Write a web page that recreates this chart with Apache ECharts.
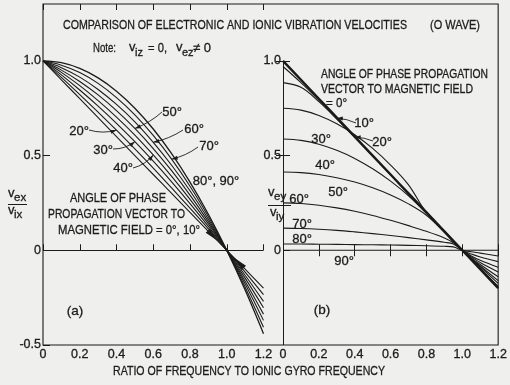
<!DOCTYPE html>
<html>
<head>
<meta charset="utf-8">
<script src="https://cdn.jsdelivr.net/npm/echarts@6/dist/echarts.min.js"></script>
<style>
  html, body { margin: 0; padding: 0; background: #efefed; }
  #c { width: 510px; height: 385px; }
</style>
</head>
<body>
<div id="c"></div>
<script>
const FONT = '"Liberation Sans", Arial, sans-serif';
const INK = '#1b1b1b';

// ---- panel (a): v_ex / v_ix against frequency ratio, one curve per angle ----
const aX       = [0, 0.1, 0.2, 0.3, 0.4, 0.5, 0.6, 0.7, 0.8, 0.9, 1.0, 1.1, 1.2];
const aDeg0_10 = [1, 0.900, 0.800, 0.700, 0.600, 0.500, 0.400, 0.300, 0.200, 0.100, 0, -0.100, -0.200];
const aDeg20   = [1, 0.913, 0.822, 0.729, 0.634, 0.535, 0.434, 0.329, 0.222, 0.113, 0, -0.115, -0.234];
const aDeg30   = [1, 0.926, 0.846, 0.761, 0.670, 0.573, 0.470, 0.361, 0.246, 0.126, 0, -0.132, -0.270];
const aDeg40   = [1, 0.939, 0.869, 0.790, 0.703, 0.608, 0.503, 0.390, 0.269, 0.139, 0, -0.147, -0.303];
const aDeg50   = [1, 0.951, 0.891, 0.820, 0.737, 0.643, 0.537, 0.420, 0.291, 0.151, 0, -0.163, -0.337];
const aDeg60   = [1, 0.964, 0.914, 0.849, 0.770, 0.678, 0.570, 0.449, 0.314, 0.164, 0, -0.178, -0.370];
const aDeg70   = [1, 0.977, 0.938, 0.881, 0.806, 0.715, 0.606, 0.481, 0.338, 0.177, 0, -0.195, -0.406];
const aDeg80_90= [1, 0.990, 0.960, 0.910, 0.840, 0.750, 0.640, 0.510, 0.360, 0.190, 0, -0.210, -0.440];

// ---- panel (b): v_ey / v_iy against frequency ratio ----
const bX     = [0, 0.1, 0.2, 0.3, 0.4, 0.5, 0.6, 0.7, 0.8, 0.9, 0.95, 1.0, 1.05, 1.1, 1.2];
const bDeg0  = [1.000, 0.900, 0.800, 0.700, 0.600, 0.500, 0.400, 0.300, 0.200, 0.100, 0.050, 0, -0.050, -0.100, -0.200];
const bDeg10 = [0.970, 0.885, 0.793, 0.697, 0.598, 0.499, 0.399, 0.299, 0.200, 0.100, 0.050, 0, -0.048, -0.095, -0.190];
const bDeg20 = [0.885, 0.860, 0.785, 0.693, 0.596, 0.497, 0.398, 0.298, 0.199, 0.100, 0.050, 0, -0.045, -0.088, -0.175];
const bDeg30 = [0.750, 0.740, 0.712, 0.668, 0.610, 0.538, 0.450, 0.345, 0.198, 0.098, 0.049, 0, -0.043, -0.083, -0.160];
const bDeg40 = [0.587, 0.580, 0.560, 0.528, 0.485, 0.430, 0.365, 0.288, 0.195, 0.097, 0.048, 0, -0.040, -0.075, -0.140];
const bDeg50 = [0.413, 0.410, 0.400, 0.383, 0.360, 0.330, 0.292, 0.245, 0.185, 0.095, 0.046, 0, -0.035, -0.065, -0.115];
const bDeg60 = [0.250, 0.247, 0.238, 0.224, 0.206, 0.184, 0.158, 0.130, 0.100, 0.065, 0.040, 0, -0.030, -0.053, -0.090];
const bDeg70 = [0.117, 0.115, 0.111, 0.105, 0.097, 0.088, 0.078, 0.067, 0.055, 0.042, 0.033, 0, -0.020, -0.035, -0.060];
const bDeg80 = [0.033, 0.033, 0.032, 0.031, 0.030, 0.029, 0.028, 0.026, 0.024, 0.021, 0.018, 0, -0.008, -0.015, -0.030];
const bDeg90 = [0, 0, 0, 0, 0, 0, 0, 0, 0, 0, 0, 0, 0, 0, 0];

// ---- tick values ----
const aYTickVals = [-0.5, 0, 0.5, 1.0];
const bYTickVals = [0, 0.5, 1.0];
const bRightTicks = [0.5, 1.0];

const fmt = v => (Math.abs(v) < 1e-9 ? '0' : (v < 0 ? '-' : '') + Math.abs(v).toFixed(1));

const chart = echarts.init(document.getElementById('c'), null, { renderer: 'canvas' });
const pairs = (xs, ys) => xs.map((x, i) => [x, ys[i]]);

function curve(name, xs, ys, panel, width) {
  return {
    type: 'line', name,
    xAxisIndex: panel === 0 ? 0 : 2,
    yAxisIndex: panel === 0 ? 0 : 1,
    data: pairs(xs, ys),
    showSymbol: false, smooth: 0.35,
    lineStyle: { color: INK, width: width || 1.1 },
    silent: true, animation: false, z: 3
  };
}

const labelStyle = { color: INK, fontSize: 12.5, fontFamily: FONT, textBorderColor: INK, textBorderWidth: 0.3 };

function xAx(grid, pos, labels) {
  return {
    gridIndex: grid, type: 'value', position: pos, min: 0, max: 1.2, interval: 0.2,
    axisLine: { show: false },
    axisTick: { show: true, inside: true, length: 6, lineStyle: { color: INK, width: 1 } },
    axisLabel: labels ? Object.assign({ show: true, margin: 3, formatter: fmt }, labelStyle) : { show: false },
    splitLine: { show: false }
  };
}
function yAx(grid, pos, ticks, labels) {
  return {
    gridIndex: grid, type: 'value', position: pos, min: -0.5, max: 1.3, interval: 0.5,
    axisLine: { show: false },
    axisTick: { show: true, inside: true, length: 7, customValues: ticks, lineStyle: { color: INK, width: 1 } },
    axisLabel: labels ? Object.assign({ show: true, margin: 2, customValues: labels, formatter: fmt }, labelStyle) : { show: false },
    splitLine: { show: false }
  };
}

const seriesA = [
  curve('0°, 10°', aX, aDeg0_10, 0),
  curve('20°', aX, aDeg20, 0),
  curve('30°', aX, aDeg30, 0),
  curve('40°', aX, aDeg40, 0),
  curve('50°', aX, aDeg50, 0),
  curve('60°', aX, aDeg60, 0),
  curve('70°', aX, aDeg70, 0),
  curve('80°, 90°', aX, aDeg80_90, 0, 1.3)
];
seriesA[0].markLine = {
  silent: true, animation: false, symbol: ['none', 'none'], label: { show: false },
  lineStyle: { color: INK, width: 1, type: 'solid' },
  data: [{ yAxis: 0 }]
};
const seriesB = [
  curve('b0°', bX, bDeg0, 1, 2.4),
  curve('b10°', bX, bDeg10, 1),
  curve('b20°', bX, bDeg20, 1),
  curve('b30°', bX, bDeg30, 1),
  curve('b40°', bX, bDeg40, 1),
  curve('b50°', bX, bDeg50, 1),
  curve('b60°', bX, bDeg60, 1),
  curve('b70°', bX, bDeg70, 1),
  curve('b80°', bX, bDeg80, 1),
  curve('b90°', bX, bDeg90, 1)
];
// vertical axis of panel (b), drawn from 1.0 down to the baseline
seriesB[9].markLine = {
  silent: true, animation: false, symbol: ['none', 'none'], label: { show: false },
  lineStyle: { color: INK, width: 1, type: 'solid' },
  data: [[{ coord: [0, 1.0] }, { coord: [0, -0.5] }]]
};

chart.setOption({
  backgroundColor: '#efefed',
  animation: false,
  grid: [
    { left: 43, top: 4, width: 220.5, height: 341 },
    { left: 283, top: 4, width: 222.5, height: 341 }
  ],
  xAxis: [xAx(0, 'bottom', true), xAx(0, 'top', false), xAx(1, 'bottom', true), xAx(1, 'top', false)],
  yAxis: [yAx(0, 'left', aYTickVals, aYTickVals), yAx(1, 'left', bYTickVals, bYTickVals), yAx(1, 'right', bRightTicks, null)],
  series: seriesA.concat(seriesB)
});

// ---- annotations ----
const px = (grid, p) => chart.convertToPixel({ gridIndex: grid }, p);
const ctx = document.createElement('canvas').getContext('2d');
function textW(s, size) { ctx.font = size + 'px ' + FONT; return ctx.measureText(s).width; }

function txt(s, x, y, size, align, width) {
  const el = {
    type: 'text', x, y, silent: true, z: 10,
    style: { text: s, x: 0, y: 0, font: size + 'px ' + FONT, fill: INK,
             stroke: INK, lineWidth: 0.3,
             textAlign: align || 'left', align: align || 'left',
             textVerticalAlign: 'middle', verticalAlign: 'middle' }
  };
  if (width) el.scaleX = width / textW(s, size);
  return el;
}
function seg(x1, y1, x2, y2, w) {
  return { type: 'line', silent: true, z: 10, shape: { x1, y1, x2, y2 }, style: { stroke: INK, lineWidth: w || 1 } };
}
function head(tip, from, len, hw) {
  const ux = tip[0] - from[0], uy = tip[1] - from[1], ul = Math.hypot(ux, uy);
  const ax = ux / ul, ay = uy / ul;
  const bx = tip[0] - ax * len, by = tip[1] - ay * len;
  return { type: 'polygon', silent: true, z: 10,
           shape: { points: [[tip[0], tip[1]], [bx - ay * hw, by + ax * hw], [bx + ay * hw, by - ax * hw]] },
           style: { fill: INK } };
}
function leader(p0, tip, bend) {
  const mx = (p0[0] + tip[0]) / 2, my = (p0[1] + tip[1]) / 2;
  const dx = tip[0] - p0[0], dy = tip[1] - p0[1], L = Math.hypot(dx, dy);
  const cx = mx - dy / L * bend, cy = my + dx / L * bend;
  return [
    { type: 'bezierCurve', silent: true, z: 10,
      shape: { x1: p0[0], y1: p0[1], x2: tip[0], y2: tip[1], cpx1: cx, cpy1: cy },
      style: { stroke: INK, lineWidth: 0.9, fill: null } },
    head(tip, [cx, cy], 6, 2)
  ];
}

const tl = px(0, [0, 1.3]);
const br = px(1, [1.2, -0.5]);
const g = [];
// outer frame
g.push({ type: 'rect', silent: true, z: 9,
         shape: { x: tl[0], y: tl[1], width: br[0] - tl[0], height: br[1] - tl[1] },
         style: { stroke: INK, lineWidth: 1.1, fill: null } });

// heading and note
g.push(txt('COMPARISON OF ELECTRONIC AND IONIC VIBRATION VELOCITIES', 63, 25, 13, 'left', 344));
g.push(txt('(O WAVE)', 430, 25, 13, 'left', 50));
g.push(txt('Note:', 93, 48, 13, 'left', 23));
g.push(txt('v', 129, 47, 13, 'left'));
g.push(txt('iz', 135, 53, 11, 'left'));
g.push(txt('= 0,', 148, 48, 13, 'left', 19));
g.push(txt('v', 176, 47, 13, 'left'));
g.push(txt('ez', 182, 53, 11, 'left'));
g.push(txt('\u2260 0', 193, 48, 13, 'left', 18));

// axis fraction labels
g.push(txt('v', 8, 193, 13, 'left'));
g.push(txt('ex', 14, 198, 11.5, 'left'));
g.push(seg(8, 204.5, 27, 204.5, 1));
g.push(txt('v', 8, 210, 13, 'left'));
g.push(txt('ix', 14, 215, 11.5, 'left'));

g.push(txt('v', 268, 192, 13, 'left'));
g.push(txt('ey', 274, 197, 11.5, 'left'));
g.push(seg(268, 205.5, 291, 205.5, 1));
g.push(txt('v', 270, 212, 13, 'left'));
g.push(txt('iy', 276, 217, 11.5, 'left'));

// x axis title
g.push(txt('RATIO OF FREQUENCY TO IONIC GYRO FREQUENCY', 113, 371, 13, 'left', 272));

// panel (a) texts
g.push(txt('ANGLE OF PHASE', 70, 198, 13.5, 'left', 96));
g.push(txt('PROPAGATION VECTOR TO', 48, 214, 13.5, 'left', 137));
g.push(txt('MAGNETIC FIELD = 0\u00b0, 10\u00b0', 58, 230, 13.5, 'left', 142));
g.push(txt('(a)', 75, 311, 13.5, 'center'));
g.push(txt('20\u00b0', 79, 131, 13, 'center'));
g.push(txt('30\u00b0', 103, 150, 13, 'center'));
g.push(txt('40\u00b0', 123, 168, 13, 'center'));
g.push(txt('50\u00b0', 172, 112, 13, 'center'));
g.push(txt('60\u00b0', 194, 129, 13, 'center'));
g.push(txt('70\u00b0', 209, 146, 13, 'center'));
g.push(txt('80\u00b0, 90\u00b0', 216, 181, 13, 'center'));

// leaders in panel (a), ending on their curves
g.push(...leader([89, 130], px(0, [aX[4], aDeg20[4]]), 4));
g.push(...leader([113, 149], px(0, [aX[5], aDeg30[5]]), 4));
g.push(...leader([133, 168], px(0, [aX[6], aDeg40[6]]), 4));
g.push(...leader([162, 112], px(0, [aX[5], aDeg50[5]]), -3));
g.push(...leader([183, 130], px(0, [aX[6], aDeg60[6]]), -3));
g.push(...leader([198, 147], px(0, [aX[7], aDeg70[7]]), -3));

// arrowheads along the 0°, 10° curve on either side of the crossing
g.push(head(px(0, [0.95, 0.05]), px(0, [0.88, 0.12]), 14, 3));
g.push(head(px(0, [1.04, -0.04]), px(0, [1.11, -0.11]), 14, 3));

// panel (b) texts
g.push(txt('ANGLE OF PHASE PROPAGATION', 321, 75, 12, 'left', 167));
g.push(txt('VECTOR TO MAGNETIC FIELD', 321, 90, 12, 'left', 152));
g.push(txt('= 0\u00b0', 326, 104, 12, 'left', 21));
g.push(txt('(b)', 322, 310, 13.5, 'center'));
g.push(txt('10\u00b0', 364, 123, 13, 'center'));
g.push(txt('20\u00b0', 382, 142, 13, 'center'));
g.push(txt('30\u00b0', 321, 139, 13, 'center'));
g.push(txt('40\u00b0', 325, 165, 13, 'center'));
g.push(txt('50\u00b0', 338, 192, 13, 'center'));
g.push(txt('60\u00b0', 299, 199, 13, 'center'));
g.push(txt('70\u00b0', 302, 224, 13, 'center'));
g.push(txt('80\u00b0', 302, 239, 13, 'center'));
g.push(txt('90\u00b0', 344, 261, 13, 'center'));
g.push(...leader([356, 123], px(1, [bX[3], bDeg10[3]]), 2));
g.push(...leader([373, 141], px(1, [bX[4], bDeg20[4]]), 2));

chart.setOption({ graphic: g });
</script>
</body>
</html>
